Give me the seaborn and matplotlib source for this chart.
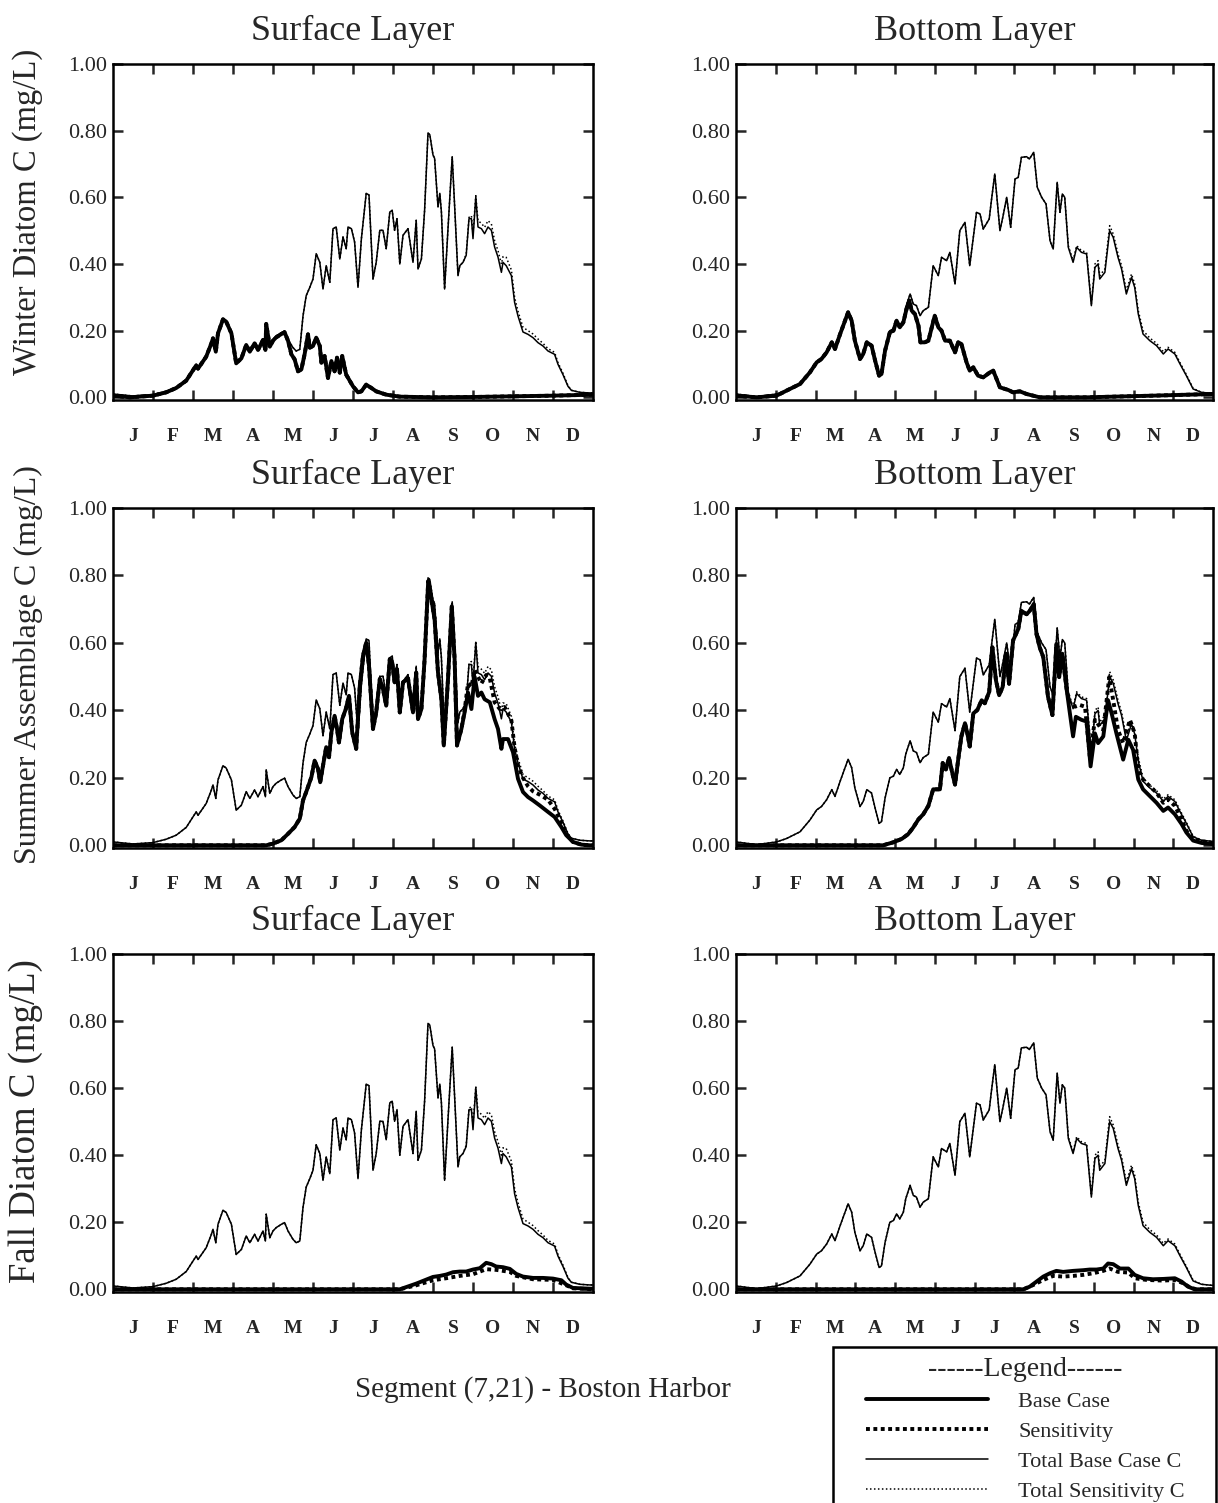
import numpy as np
import matplotlib
matplotlib.use("Agg")
import matplotlib.pyplot as plt
from matplotlib.patches import Rectangle
import seaborn as sns

# ---------------------------------------------------------------- data
MONTHS = ["J", "F", "M", "A", "M", "J", "J", "A", "S", "O", "N", "D"]
YTICKS = [0.0, 0.2, 0.4, 0.6, 0.8, 1.0]

# Total algal carbon, surface layer (x in months since Jan 1, y in mg/L)
surf_total_x = [0.0, 0.5, 1.0, 1.33, 1.58, 1.83, 2.08, 2.125, 2.33, 2.46,
                2.5, 2.57, 2.625, 2.75, 2.83, 2.96, 3.08, 3.21, 3.33, 3.42,
                3.54, 3.625, 3.75, 3.81, 3.83, 3.92, 4.0, 4.08, 4.21, 4.29,
                4.375, 4.5, 4.58, 4.67, 4.75, 4.83, 4.92, 5.0, 5.08, 5.17,
                5.25, 5.33, 5.42, 5.5, 5.58, 5.67, 5.75, 5.83, 5.875, 5.96,
                6.04, 6.125, 6.21, 6.33, 6.4, 6.5, 6.58, 6.67, 6.75, 6.83,
                6.92, 6.98, 7.04, 7.1, 7.17, 7.25, 7.375, 7.5, 7.58, 7.625,
                7.71, 7.79, 7.875, 7.92, 8.0, 8.04, 8.125, 8.17, 8.21, 8.29,
                8.375, 8.48, 8.54, 8.625, 8.67, 8.75, 8.83, 8.9, 8.96, 9.0,
                9.07, 9.125, 9.21, 9.29, 9.375, 9.46, 9.54, 9.625, 9.71, 9.75,
                9.83, 9.96, 10.04, 10.125, 10.25, 10.375, 10.5, 10.625, 10.75, 10.875,
                11.04, 11.125, 11.25, 11.375, 11.46, 11.67, 11.92, 12.0]
surf_total_y = [0.010, 0.004, 0.008, 0.018, 0.030, 0.053, 0.099, 0.089, 0.124, 0.164,
                0.179, 0.139, 0.194, 0.236, 0.229, 0.194, 0.104, 0.119, 0.159, 0.139,
                0.164, 0.144, 0.174, 0.144, 0.224, 0.154, 0.174, 0.184, 0.194, 0.199,
                0.174, 0.149, 0.139, 0.144, 0.244, 0.305, 0.330, 0.355, 0.431, 0.405,
                0.325, 0.395, 0.345, 0.506, 0.511, 0.415, 0.481, 0.446, 0.511, 0.506,
                0.466, 0.330, 0.476, 0.612, 0.607, 0.355, 0.405, 0.501, 0.501, 0.446,
                0.556, 0.561, 0.501, 0.536, 0.400, 0.486, 0.506, 0.405, 0.531, 0.385,
                0.415, 0.561, 0.793, 0.788, 0.727, 0.717, 0.571, 0.612, 0.556, 0.325,
                0.506, 0.722, 0.576, 0.365, 0.395, 0.405, 0.426, 0.536, 0.536, 0.476,
                0.602, 0.511, 0.506, 0.491, 0.511, 0.501, 0.451, 0.421, 0.375, 0.405,
                0.395, 0.365, 0.285, 0.244, 0.196, 0.189, 0.179, 0.164, 0.154, 0.139,
                0.129, 0.099, 0.068, 0.033, 0.021, 0.015, 0.013, 0.013]

# Total algal carbon, surface layer, sensitivity run (autumn part, where it departs)
surf_total_sens_x = [8.83, 8.9, 8.96, 9.0, 9.07, 9.125, 9.21, 9.29, 9.375, 9.46,
                     9.54, 9.625, 9.71, 9.75, 9.83, 9.96, 10.04, 10.125, 10.25, 10.375,
                     10.5, 10.625, 10.75, 10.875, 11.04, 11.125, 11.25, 11.375, 11.46, 11.67,
                     11.92, 12.0]
surf_total_sens_y = [0.430, 0.540, 0.545, 0.490, 0.605, 0.530, 0.522, 0.510, 0.530, 0.520,
                     0.470, 0.440, 0.400, 0.422, 0.420, 0.382, 0.300, 0.258, 0.210, 0.200,
                     0.190, 0.175, 0.162, 0.146, 0.135, 0.104, 0.072, 0.035, 0.021, 0.015,
                     0.013, 0.013]

# Winter diatom carbon, surface layer
winter_surf_x = [0.0, 0.42, 1.0, 1.33, 1.58, 1.83, 2.08, 2.125, 2.33, 2.46,
                 2.5, 2.57, 2.625, 2.75, 2.83, 2.96, 3.08, 3.21, 3.33, 3.42,
                 3.54, 3.625, 3.75, 3.81, 3.83, 3.92, 4.0, 4.08, 4.21, 4.29,
                 4.375, 4.46, 4.54, 4.625, 4.71, 4.79, 4.875, 4.92, 5.0, 5.08,
                 5.17, 5.21, 5.29, 5.375, 5.46, 5.54, 5.6, 5.67, 5.73, 5.83,
                 6.0, 6.125, 6.21, 6.33, 6.46, 6.58, 6.83, 7.17, 8.0, 9.0,
                 10.0, 11.0, 12.0]
winter_surf_y = [0.005, 0.000, 0.005, 0.015, 0.028, 0.050, 0.096, 0.086, 0.122, 0.162,
                 0.177, 0.137, 0.192, 0.234, 0.227, 0.192, 0.102, 0.117, 0.157, 0.137,
                 0.162, 0.142, 0.172, 0.142, 0.220, 0.152, 0.170, 0.180, 0.190, 0.195,
                 0.170, 0.129, 0.114, 0.078, 0.084, 0.129, 0.189, 0.149, 0.154, 0.179,
                 0.154, 0.104, 0.124, 0.058, 0.109, 0.078, 0.119, 0.074, 0.124, 0.068,
                 0.033, 0.015, 0.018, 0.038, 0.028, 0.018, 0.008, 0.002, 0.000, 0.001,
                 0.003, 0.005, 0.008]

# Summer assemblage carbon, surface layer
summer_surf_x = [0.0, 3.83, 4.0, 4.21, 4.375, 4.54, 4.67, 4.75, 4.83, 4.96,
                 5.04, 5.125, 5.18, 5.25, 5.33, 5.4, 5.46, 5.54, 5.6, 5.65,
                 5.73, 5.82, 5.9, 5.98, 6.08, 6.17, 6.25, 6.33, 6.4, 6.5,
                 6.58, 6.67, 6.75, 6.83, 6.92, 6.98, 7.04, 7.1, 7.17, 7.25,
                 7.375, 7.5, 7.58, 7.625, 7.71, 7.79, 7.88, 7.96, 8.04, 8.125,
                 8.21, 8.27, 8.375, 8.47, 8.54, 8.6, 8.71, 8.79, 8.875, 8.96,
                 9.04, 9.125, 9.21, 9.29, 9.42, 9.54, 9.625, 9.71, 9.75, 9.875,
                 10.0, 10.125, 10.25, 10.375, 10.5, 10.67, 10.875, 11.04, 11.21, 11.33,
                 11.5, 11.71, 11.92, 12.0]
summer_surf_y = [0.000, 0.000, 0.005, 0.015, 0.034, 0.054, 0.079, 0.133, 0.158, 0.202,
                 0.251, 0.227, 0.187, 0.236, 0.291, 0.261, 0.335, 0.384, 0.345, 0.305,
                 0.374, 0.404, 0.443, 0.335, 0.286, 0.473, 0.562, 0.601, 0.532, 0.345,
                 0.394, 0.493, 0.463, 0.414, 0.552, 0.542, 0.483, 0.522, 0.394, 0.483,
                 0.495, 0.394, 0.512, 0.374, 0.404, 0.552, 0.783, 0.729, 0.670, 0.512,
                 0.433, 0.296, 0.493, 0.709, 0.552, 0.296, 0.345, 0.394, 0.453, 0.404,
                 0.500, 0.443, 0.453, 0.433, 0.424, 0.374, 0.345, 0.286, 0.315, 0.315,
                 0.276, 0.197, 0.158, 0.143, 0.133, 0.118, 0.099, 0.084, 0.054, 0.030,
                 0.010, 0.002, 0.000, 0.000]
summer_surf_sens_x = [8.79, 8.875, 8.96, 9.04, 9.125, 9.21, 9.33, 9.42, 9.54, 9.67,
                      9.79, 9.96, 10.04, 10.125, 10.25, 10.375, 10.5, 10.67, 10.875, 11.04,
                      11.21, 11.33, 11.5, 11.71, 11.92, 12.0]
summer_surf_sens_y = [0.400, 0.480, 0.470, 0.520, 0.500, 0.480, 0.505, 0.495, 0.424, 0.404,
                      0.410, 0.370, 0.290, 0.236, 0.200, 0.175, 0.160, 0.150, 0.135, 0.108,
                      0.069, 0.034, 0.010, 0.002, 0.000, 0.000]

# Fall diatom carbon, surface layer
fall_surf_x = [0.0, 7.17, 7.58, 7.79, 8.0, 8.17, 8.33, 8.5, 8.67, 8.83,
               9.0, 9.17, 9.33, 9.46, 9.58, 9.75, 9.92, 10.08, 10.25, 10.5,
               10.75, 11.0, 11.21, 11.33, 11.5, 11.92, 12.0]
fall_surf_y = [0.000, 0.000, 0.017, 0.027, 0.037, 0.040, 0.044, 0.051, 0.053, 0.053,
               0.059, 0.063, 0.079, 0.075, 0.068, 0.066, 0.061, 0.046, 0.038, 0.034,
               0.034, 0.032, 0.027, 0.014, 0.004, 0.002, 0.002]
fall_surf_sens_x = [0.0, 7.17, 7.58, 8.0, 8.33, 8.67, 9.0, 9.33, 9.58, 9.92,
                    10.08, 10.5, 11.0, 11.33, 11.5, 12.0]
fall_surf_sens_y = [0.000, 0.000, 0.012, 0.027, 0.033, 0.040, 0.045, 0.060, 0.058, 0.052,
                    0.040, 0.030, 0.028, 0.012, 0.003, 0.000]

# Total algal carbon, bottom layer
bot_total_x = [0.0, 0.52, 1.02, 1.27, 1.61, 1.86, 2.03, 2.15, 2.28, 2.41,
               2.49, 2.62, 2.82, 2.91, 2.99, 3.12, 3.20, 3.29, 3.41, 3.50,
               3.60, 3.66, 3.75, 3.87, 3.96, 4.04, 4.12, 4.21, 4.27, 4.38,
               4.46, 4.54, 4.63, 4.71, 4.84, 4.96, 5.09, 5.17, 5.30, 5.38,
               5.51, 5.63, 5.76, 5.88, 6.05, 6.14, 6.22, 6.37, 6.43, 6.51,
               6.64, 6.72, 6.81, 6.91, 7.02, 7.10, 7.18, 7.31, 7.38, 7.49,
               7.58, 7.69, 7.80, 7.90, 7.98, 8.08, 8.15, 8.21, 8.27, 8.36,
               8.48, 8.57, 8.69, 8.82, 8.94, 9.03, 9.11, 9.15, 9.28, 9.40,
               9.49, 9.61, 9.70, 9.82, 9.95, 10.03, 10.12, 10.24, 10.41, 10.58,
               10.75, 10.87, 11.04, 11.17, 11.33, 11.50, 11.71, 11.96, 12.0]
bot_total_y = [0.010, 0.002, 0.010, 0.020, 0.040, 0.075, 0.105, 0.115, 0.135, 0.165,
               0.145, 0.190, 0.255, 0.230, 0.170, 0.115, 0.130, 0.165, 0.155, 0.110,
               0.065, 0.070, 0.140, 0.200, 0.205, 0.225, 0.210, 0.230, 0.270, 0.310,
               0.280, 0.275, 0.245, 0.260, 0.270, 0.395, 0.365, 0.420, 0.410, 0.435,
               0.340, 0.500, 0.525, 0.395, 0.555, 0.550, 0.505, 0.535, 0.595, 0.670,
               0.500, 0.545, 0.600, 0.510, 0.655, 0.660, 0.720, 0.722, 0.715, 0.735,
               0.630, 0.600, 0.580, 0.470, 0.445, 0.645, 0.555, 0.610, 0.600, 0.450,
               0.405, 0.450, 0.435, 0.430, 0.275, 0.390, 0.400, 0.355, 0.375, 0.500,
               0.480, 0.420, 0.385, 0.310, 0.360, 0.330, 0.250, 0.190, 0.170, 0.155,
               0.130, 0.145, 0.130, 0.100, 0.065, 0.025, 0.015, 0.012, 0.012]
bot_total_sens_x = [8.36, 8.48, 8.57, 8.69, 8.82, 8.94, 9.03, 9.11, 9.15, 9.28,
                    9.40, 9.49, 9.61, 9.70, 9.82, 9.95, 10.03, 10.12, 10.24, 10.41,
                    10.58, 10.75, 10.87, 11.04, 11.17, 11.33, 11.50, 11.71, 11.96, 12.0]
bot_total_sens_y = [0.455, 0.410, 0.455, 0.440, 0.435, 0.280, 0.400, 0.410, 0.365, 0.385,
                    0.515, 0.490, 0.430, 0.395, 0.320, 0.370, 0.340, 0.260, 0.200, 0.178,
                    0.162, 0.137, 0.150, 0.135, 0.104, 0.068, 0.027, 0.015, 0.012, 0.012]

# Winter diatom carbon, bottom layer
winter_bot_x = [0.0, 0.52, 1.02, 1.27, 1.61, 1.86, 2.03, 2.15, 2.28, 2.41,
                2.49, 2.62, 2.82, 2.91, 2.99, 3.12, 3.20, 3.29, 3.41, 3.50,
                3.60, 3.66, 3.75, 3.87, 3.96, 4.04, 4.12, 4.21, 4.29, 4.36,
                4.42, 4.50, 4.59, 4.64, 4.75, 4.84, 5.00, 5.09, 5.17, 5.26,
                5.38, 5.51, 5.59, 5.67, 5.80, 5.88, 5.97, 6.09, 6.22, 6.39,
                6.47, 6.64, 6.85, 6.97, 7.14, 7.31, 7.64, 8.82, 10.49, 12.0]
winter_bot_y = [0.005, 0.000, 0.005, 0.020, 0.040, 0.075, 0.105, 0.115, 0.135, 0.165,
                0.145, 0.190, 0.255, 0.230, 0.170, 0.115, 0.130, 0.165, 0.155, 0.110,
                0.065, 0.070, 0.140, 0.195, 0.200, 0.230, 0.210, 0.225, 0.265, 0.290,
                0.260, 0.250, 0.215, 0.165, 0.165, 0.170, 0.245, 0.210, 0.200, 0.170,
                0.170, 0.135, 0.165, 0.160, 0.105, 0.080, 0.090, 0.065, 0.060, 0.075,
                0.080, 0.030, 0.022, 0.015, 0.018, 0.010, 0.000, 0.000, 0.005, 0.010]

# Summer assemblage carbon, bottom layer
summer_bot_x = [0.0, 3.70, 3.96, 4.17, 4.33, 4.46, 4.59, 4.71, 4.84, 4.96,
                5.13, 5.20, 5.28, 5.36, 5.44, 5.51, 5.59, 5.67, 5.76, 5.82,
                5.88, 5.97, 6.07, 6.18, 6.26, 6.37, 6.45, 6.54, 6.62, 6.71,
                6.79, 6.87, 6.97, 7.10, 7.18, 7.31, 7.39, 7.49, 7.56, 7.64,
                7.73, 7.85, 7.96, 8.06, 8.13, 8.21, 8.32, 8.40, 8.48, 8.55,
                8.69, 8.82, 8.92, 9.03, 9.11, 9.24, 9.36, 9.45, 9.57, 9.74,
                9.87, 9.99, 10.12, 10.24, 10.41, 10.58, 10.75, 10.87, 11.04, 11.21,
                11.33, 11.50, 11.71, 11.96, 12.0]
summer_bot_y = [0.000, 0.000, 0.009, 0.019, 0.033, 0.053, 0.077, 0.092, 0.117, 0.166,
                0.166, 0.244, 0.225, 0.259, 0.215, 0.180, 0.254, 0.323, 0.362, 0.332,
                0.293, 0.391, 0.401, 0.430, 0.421, 0.455, 0.587, 0.489, 0.445, 0.470,
                0.568, 0.479, 0.607, 0.641, 0.695, 0.685, 0.695, 0.715, 0.626, 0.587,
                0.558, 0.440, 0.386, 0.597, 0.499, 0.568, 0.460, 0.391, 0.323, 0.381,
                0.372, 0.367, 0.234, 0.332, 0.303, 0.323, 0.430, 0.391, 0.332, 0.254,
                0.313, 0.283, 0.195, 0.166, 0.146, 0.126, 0.102, 0.112, 0.092, 0.063,
                0.038, 0.014, 0.007, 0.004, 0.004]
summer_bot_sens_x = [8.32, 8.40, 8.53, 8.65, 8.78, 8.90, 9.03, 9.15, 9.24, 9.39,
                     9.49, 9.61, 9.74, 9.91, 10.03, 10.12, 10.24, 10.41, 10.58, 10.75,
                     10.87, 11.04, 11.21, 11.33, 11.50, 11.96, 12.0]
summer_bot_sens_y = [0.460, 0.421, 0.411, 0.416, 0.411, 0.264, 0.372, 0.352, 0.342, 0.499,
                     0.430, 0.342, 0.303, 0.372, 0.332, 0.225, 0.195, 0.175, 0.156, 0.126,
                     0.136, 0.117, 0.077, 0.043, 0.019, 0.006, 0.006]

# Fall diatom carbon, bottom layer
fall_bot_x = [0.0, 7.23, 7.39, 7.56, 7.73, 7.90, 8.06, 8.23, 8.48, 8.73,
              8.90, 9.07, 9.24, 9.36, 9.49, 9.66, 9.87, 10.03, 10.24, 10.49,
              10.75, 11.04, 11.21, 11.37, 11.54, 12.0]
fall_bot_y = [0.000, 0.000, 0.008, 0.023, 0.038, 0.048, 0.055, 0.052, 0.055, 0.057,
              0.059, 0.059, 0.062, 0.077, 0.075, 0.062, 0.062, 0.043, 0.033, 0.030,
              0.031, 0.033, 0.023, 0.008, 0.000, 0.000]
fall_bot_sens_x = [0.0, 7.23, 7.48, 7.73, 7.98, 8.23, 8.48, 8.73, 8.99, 9.24,
                   9.40, 9.61, 9.87, 10.03, 10.33, 10.75, 11.04, 11.25, 11.42, 11.58,
                   12.0]
fall_bot_sens_y = [0.000, 0.000, 0.013, 0.028, 0.040, 0.038, 0.040, 0.043, 0.048, 0.055,
                   0.062, 0.052, 0.050, 0.033, 0.028, 0.026, 0.028, 0.018, 0.006, 0.000,
                   0.000]


def with_late_part(base_x, base_y, late_x, late_y):
    """Sensitivity series: identical to the base run until it departs."""
    start = late_x[0]
    xs = [x for x in base_x if x < start] + list(late_x)
    ys = [y for x, y in zip(base_x, base_y) if x < start] + list(late_y)
    return xs, ys


surf_tsens = with_late_part(surf_total_x, surf_total_y, surf_total_sens_x, surf_total_sens_y)
bot_tsens = with_late_part(bot_total_x, bot_total_y, bot_total_sens_x, bot_total_sens_y)
summer_surf_sens = with_late_part(summer_surf_x, summer_surf_y, summer_surf_sens_x, summer_surf_sens_y)
summer_bot_sens = with_late_part(summer_bot_x, summer_bot_y, summer_bot_sens_x, summer_bot_sens_y)

# (y label, surface series, bottom series, label position, label size)
rows = [
    ("Winter Diatom C (mg/L)",
     ((winter_surf_x, winter_surf_y), (winter_surf_x, winter_surf_y)),
     ((winter_bot_x, winter_bot_y), (winter_bot_x, winter_bot_y)), 0.56, 23.5),
    ("Summer Assemblage C (mg/L)",
     ((summer_surf_x, summer_surf_y), summer_surf_sens),
     ((summer_bot_x, summer_bot_y), summer_bot_sens), 0.54, 23),
    ("Fall Diatom C (mg/L)",
     ((fall_surf_x, fall_surf_y), (fall_surf_sens_x, fall_surf_sens_y)),
     ((fall_bot_x, fall_bot_y), (fall_bot_sens_x, fall_bot_sens_y)), 0.506, 26.5),
]

# ---------------------------------------------------------------- style
sns.set_theme(style="white")
plt.rcParams["font.family"] = ["Liberation Serif", "DejaVu Serif"]
plt.rcParams["axes.edgecolor"] = "black"
plt.rcParams["axes.linewidth"] = 1.8

W, H = 1218, 1503
fig = plt.figure(figsize=(W / 100, H / 100), dpi=100)
fig.patch.set_facecolor("white")

col_left = [113, 736]
col_right = [593, 1213]
row_top = [64, 508, 954]
row_bot = [400, 848, 1292]

THICK, THIN = 2.8, 1.1
DOT_THICK = (0, (1.0, 0.9))
DOT_THIN = (0, (1.0, 1.6))


def draw_panel(ax, total, total_sens, base, sens, label_legend=False):
    lab = (lambda s: s) if label_legend else (lambda s: None)
    sns.lineplot(x=total[0], y=total[1], ax=ax, color="black", linewidth=THIN,
                 sort=False, estimator=None, label=lab("Total Base Case C"))
    sns.lineplot(x=total_sens[0], y=total_sens[1], ax=ax, color="black", linewidth=THIN,
                 linestyle=DOT_THIN, sort=False, estimator=None,
                 label=lab("Total Sensitivity C"))
    sns.lineplot(x=base[0], y=base[1], ax=ax, color="black", linewidth=THICK,
                 sort=False, estimator=None, label=lab("Base Case"))
    sns.lineplot(x=sens[0], y=sens[1], ax=ax, color="black", linewidth=THICK,
                 linestyle=DOT_THICK, sort=False, estimator=None, label=lab("Sensitivity"))

    ax.set_xlim(0, 12)
    ax.set_ylim(-0.008, 1.0)
    ax.set_xticks(np.arange(1, 12))
    ax.set_xticklabels([])
    ax.set_xticks(np.arange(0.5, 12, 1), minor=True)
    ax.set_xticklabels(MONTHS, minor=True, fontsize=14, fontweight="bold")
    ax.tick_params(axis="x", which="major", direction="in", length=7, width=1.8,
                   top=True, bottom=True)
    ax.tick_params(axis="x", which="minor", length=0, pad=20)
    ax.set_yticks(YTICKS)
    ax.set_yticklabels([f"{v:.2f}" for v in YTICKS], fontsize=16)
    ax.tick_params(axis="y", direction="in", length=7, width=1.8, left=True,
                   right=True, pad=4)
    ax.set_xlabel("")
    ax.set_ylabel("")
    for s in ax.spines.values():
        s.set_linewidth(1.8)
        s.set_color("black")


legend_ax = None
for r, (ylabel, surf, bot, ylab_pos, ylab_size) in enumerate(rows):
    for c, (title, total, tsens, series) in enumerate([
            ("Surface Layer", (surf_total_x, surf_total_y), surf_tsens, surf),
            ("Bottom Layer", (bot_total_x, bot_total_y), bot_tsens, bot)]):
        left = col_left[c] / W
        width = (col_right[c] - col_left[c]) / W
        bottom = 1 - row_bot[r] / H
        height = (row_bot[r] - row_top[r]) / H
        ax = fig.add_axes([left, bottom, width, height])
        is_leg = (r == 2 and c == 1)
        draw_panel(ax, total, tsens, series[0], series[1], label_legend=is_leg)
        ax.set_title(title, fontsize=26, pad=17)
        if c == 0:
            ax.set_ylabel(ylabel, fontsize=ylab_size)
            ax.yaxis.set_label_coords(-0.146, ylab_pos)
        if is_leg:
            legend_ax = ax

handles, labels = legend_ax.get_legend_handles_labels()
legend_ax.get_legend().remove()
order = ["Base Case", "Sensitivity", "Total Base Case C", "Total Sensitivity C"]
handles = [handles[labels.index(o)] for o in order]

# legend box, running off the bottom edge of the page
fig.patches.append(Rectangle((833 / W, -0.01), (1216 - 833) / W, 0.01 + (1503 - 1347) / H,
                             transform=fig.transFigure, fill=False,
                             edgecolor="black", linewidth=1.8))
leg = fig.legend(handles, order, title="------Legend------", loc="upper left",
                 bbox_to_anchor=(866 / W, 1 - 1357 / H), frameon=False,
                 fontsize=16, title_fontsize=20,
                 handlelength=5.5, handletextpad=1.35, labelspacing=0.42,
                 borderaxespad=0, borderpad=0)

fig.text(543 / W, 1 - 1390 / H, "Segment (7,21) - Boston Harbor",
         ha="center", va="center", fontsize=21)

fig.savefig("out.png", dpi=100, facecolor="white")
